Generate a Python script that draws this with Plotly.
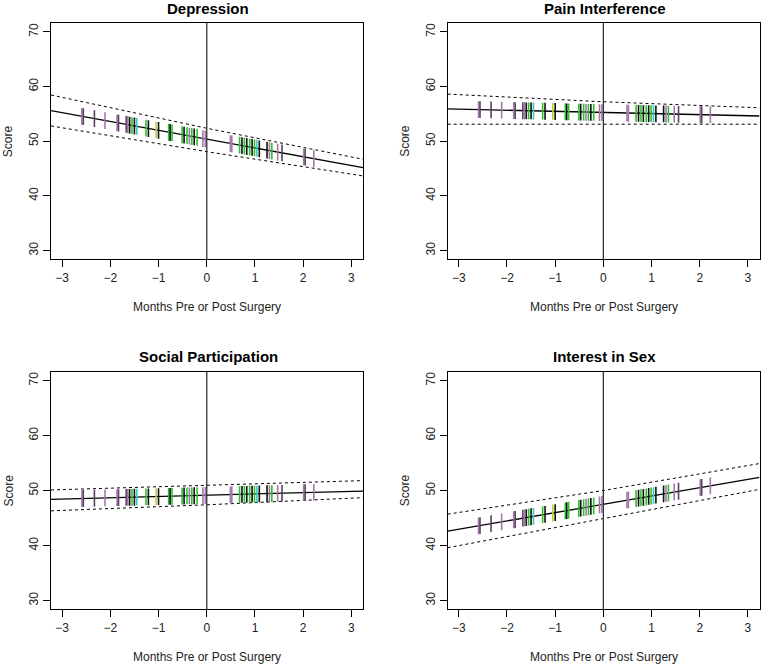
import numpy as np
import plotly.graph_objects as go

# panel titles
titles = ["Depression", "Pain Interference", "Social Participation", "Interest in Sex"]

# months at which the fitted line / band values were read (left edge, surgery, right edge)
line_x = [-3.23, 0.0, 3.24]

# fitted score and dotted band per panel
fit = {
    "Depression":           [55.57, 50.35, 45.16],
    "Pain Interference":    [55.9, 55.2, 54.6],
    "Social Participation": [48.4, 49.1, 49.9],
    "Interest in Sex":      [42.6, 47.5, 52.4],
}
upper = {
    "Depression":           [58.44, 52.36, 46.69],
    "Pain Interference":    [58.6, 57.2, 56.1],
    "Social Participation": [50.1, 51.0, 51.8],
    "Interest in Sex":      [45.7, 50.0, 54.9],
}
lower = {
    "Depression":           [52.78, 48.08, 43.64],
    "Pain Interference":    [53.1, 53.1, 53.1],
    "Social Participation": [46.3, 47.4, 48.7],
    "Interest in Sex":      [39.6, 44.9, 50.2],
}

# observation times (months pre/post surgery) shown as rug ticks on the fit
months = [-2.59, -2.56, -2.33, -2.11, -1.86, -1.83, -1.67, -1.64, -1.60, -1.55,
          -1.50, -1.45, -1.26, -1.21, -1.05, -1.00, -0.79, -0.76, -0.72, -0.51,
          -0.47, -0.41, -0.36, -0.31, -0.26, -0.20, -0.08, -0.03,
          0.49, 0.52, 0.68, 0.73, 0.78, 0.83, 0.89, 0.94, 0.99, 1.04, 1.09,
          1.25, 1.30, 1.35, 1.47, 1.56, 2.01, 2.04, 2.22]
P, D, K, G, C, Y = "#a27aa8", "#5a4060", "#111111", "#2fbf2f", "#3cc8c0", "#c8c83c"
tick_cols = [P, D, D, P, P, D, D, P, K, G,
             K, C, G, K, Y, K, G, K, G, G,
             K, G, P, G, K, G, P, P,
             P, P, G, K, G, K, G, K, G, C, K,
             K, P, G, P, D, P, D, P]

x_ticks = [-3, -2, -1, 0, 1, 2, 3]
y_ticks = [30, 40, 50, 60, 70]

W, H = 761, 664
# plot boxes in pixels: (left, right, top, bottom)
boxes = [(51, 363, 23, 259.3), (447.7, 759.5, 23, 259.3),
         (51, 363, 371.7, 609.3), (447.7, 759.5, 371.7, 609.3)]

fig = go.Figure()
FONT = "Liberation Sans, Arial, sans-serif"

for i, name in enumerate(titles):
    n = "" if i == 0 else str(i + 1)
    xa, ya = "x" + n, "y" + n
    for band in (upper, lower):
        fig.add_trace(go.Scatter(x=line_x, y=band[name], mode="lines", xaxis=xa, yaxis=ya,
                                 line=dict(color="black", width=1, dash="dot"),
                                 showlegend=False, hoverinfo="skip"))
    fig.add_trace(go.Scatter(x=line_x, y=fit[name], mode="lines", xaxis=xa, yaxis=ya,
                             line=dict(color="black", width=1.3), showlegend=False))
    fig.add_trace(go.Scatter(x=months, y=np.interp(months, line_x, fit[name]),
                             mode="markers", xaxis=xa, yaxis=ya, showlegend=False,
                             marker=dict(symbol="line-ns", size=12,
                                         line=dict(color=tick_cols, width=1.6))))
    fig.add_shape(type="line", xref=xa, yref=ya + " domain", x0=0, x1=0, y0=0, y1=1,
                  line=dict(color="#333333", width=1.3))

    l, r, t, b = boxes[i]
    axis_common = dict(showline=True, mirror=True, linecolor="black", linewidth=1,
                       ticks="outside", ticklen=7, tickcolor="black", showgrid=False,
                       zeroline=False, tickfont=dict(family=FONT, size=12, color="#222"))
    fig.layout["xaxis" + n] = dict(domain=[l / W, r / W], range=[-3.23, 3.24],
                                   tickvals=x_ticks, anchor=ya, **axis_common)
    fig.layout["yaxis" + n] = dict(domain=[1 - b / H, 1 - t / H], range=[28.4, 71.6],
                                   tickvals=y_ticks, tickangle=-90, anchor=xa, **axis_common)

    cx = (l + r) / 2
    fig.add_annotation(text="<b>" + name + "</b>", x=(cx + 1) / W, y=1 - (t - 15) / H,
                       xref="paper", yref="paper", showarrow=False,
                       xanchor="center", yanchor="middle",
                       font=dict(family=FONT, size=15, color="black"))
    fig.add_annotation(text="Months Pre or Post Surgery", x=cx / W, y=1 - (b + 47.5) / H,
                       xref="paper", yref="paper", showarrow=False,
                       xanchor="center", yanchor="middle",
                       font=dict(family=FONT, size=12, color="#222"))
    fig.add_annotation(text="Score", x=(l - 43) / W, y=1 - (t + b) / 2 / H,
                       xref="paper", yref="paper", showarrow=False, textangle=-90,
                       xanchor="center", yanchor="middle",
                       font=dict(family=FONT, size=12, color="#222"))

fig.update_layout(width=W, height=H, margin=dict(l=0, r=0, t=0, b=0),
                  plot_bgcolor="white", paper_bgcolor="white")

# drop the browser's default body margin so the figure fills the window
fig.write_html("out.html", config={"displayModeBar": False},
               post_script="document.body.style.margin='0';")
